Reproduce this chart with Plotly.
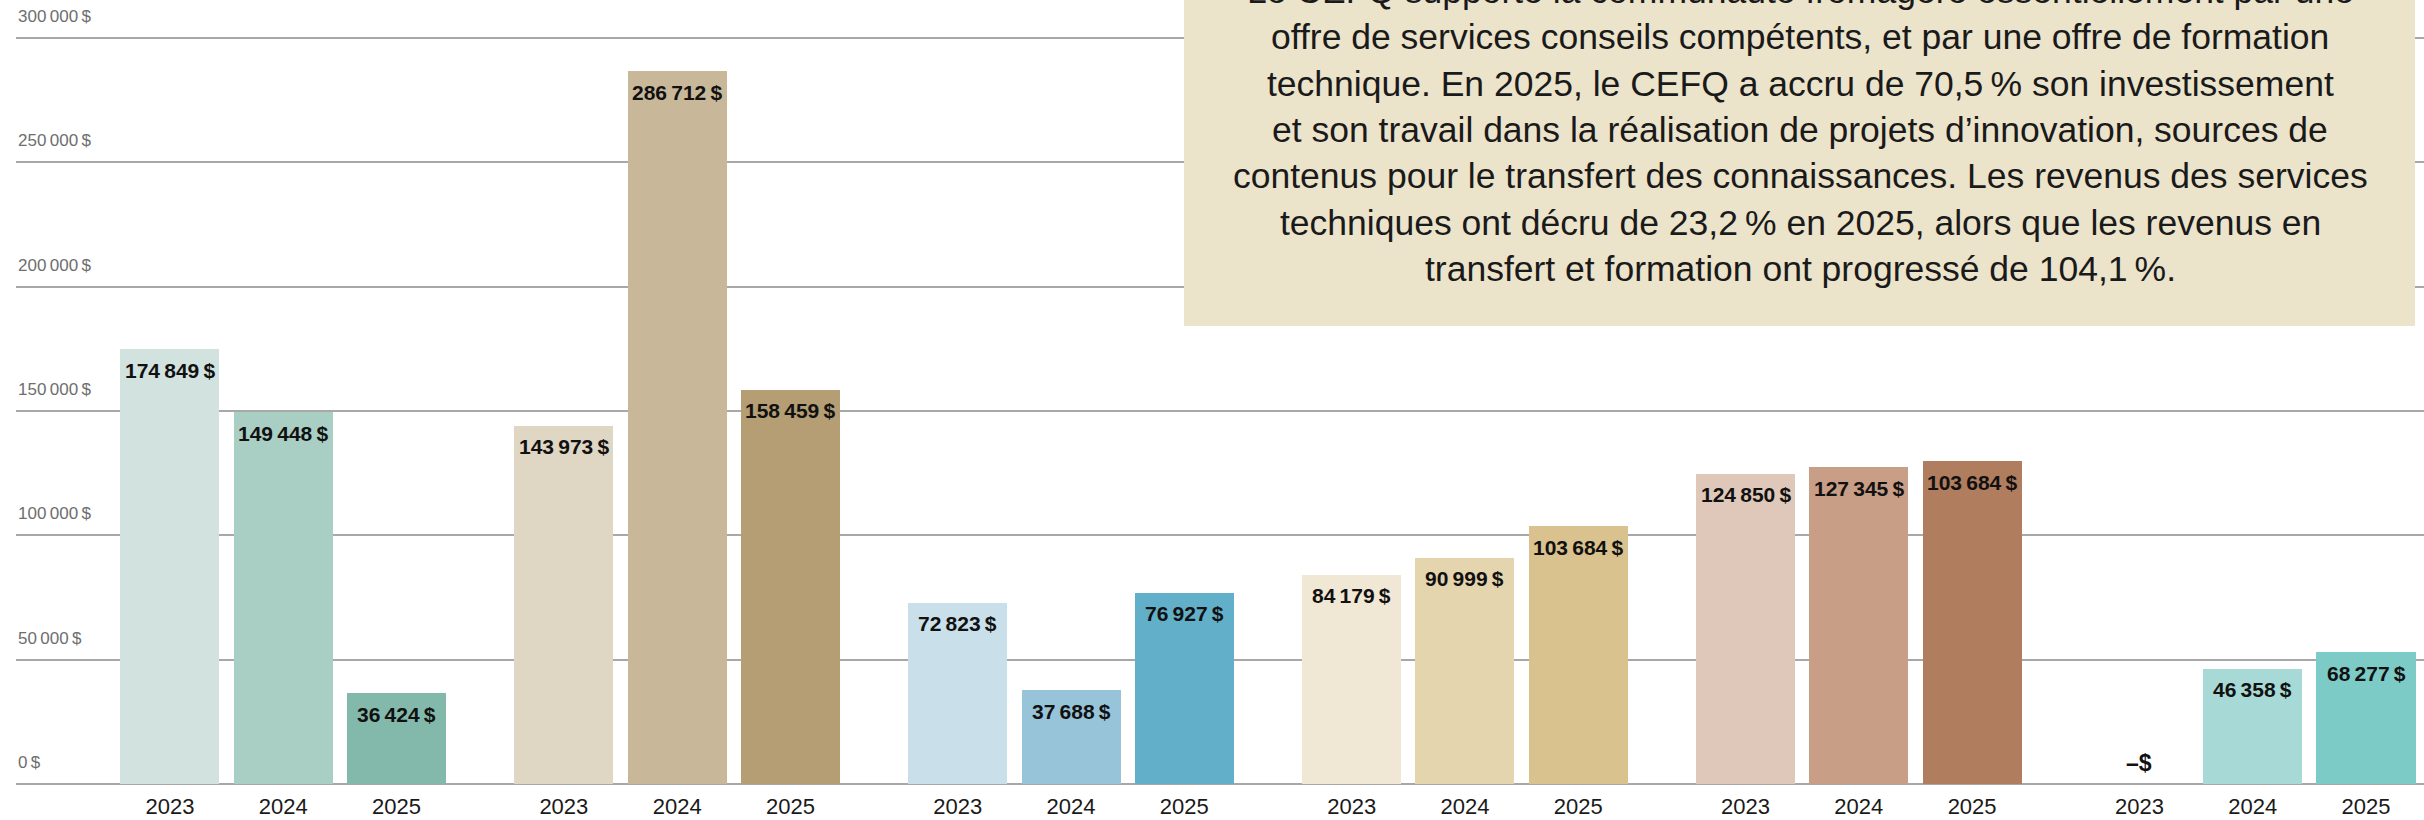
import plotly.graph_objects as go

NNB = "\u202f"

# ---------------- data ----------------
years = ["2023", "2024", "2025"]

# bar heights as drawn in the picture (one list per group of three years)
heights_g1 = [174849, 149448, 36424]
heights_g2 = [143973, 286712, 158459]
heights_g3 = [72823, 37688, 76927]
heights_g4 = [84179, 90999, 103684]
heights_g5 = [124850, 127345, 129800]
heights_g6 = [0, 46358, 53000]

# value labels printed on the bars
labels_g1 = ["174 849 $", "149 448 $", "36 424 $"]
labels_g2 = ["143 973 $", "286 712 $", "158 459 $"]
labels_g3 = ["72 823 $", "37 688 $", "76 927 $"]
labels_g4 = ["84 179 $", "90 999 $", "103 684 $"]
labels_g5 = ["124 850 $", "127 345 $", "103 684 $"]
labels_g6 = ["–$", "46 358 $", "68 277 $"]

colors_g1 = ["#d2e3df", "#a9cfc4", "#82b9aa"]
colors_g2 = ["#e0d6c4", "#c8b899", "#b59d74"]
colors_g3 = ["#c9dfea", "#97c4d9", "#62afc9"]
colors_g4 = ["#f0e7d4", "#e5d5ae", "#dac28e"]
colors_g5 = ["#dfc8b9", "#c89e86", "#b07d5e"]
colors_g6 = ["#ffffff", "#a7dad6", "#7ccbc6"]

ytick_vals = [0, 50000, 100000, 150000, 200000, 250000, 300000]
ytick_text = ["0" + NNB + "$", "50" + NNB + "000" + NNB + "$", "100" + NNB + "000" + NNB + "$",
              "150" + NNB + "000" + NNB + "$", "200" + NNB + "000" + NNB + "$",
              "250" + NNB + "000" + NNB + "$", "300" + NNB + "000" + NNB + "$"]

note_lines = [
    "Le CEFQ supporte la communauté fromagère essentiellement par une",
    "offre de services conseils compétents, et par une offre de formation",
    "technique. En 2025, le CEFQ a accru de 70,5" + NNB + "% son investissement",
    "et son travail dans la réalisation de projets d’innovation, sources de",
    "contenus pour le transfert des connaissances. Les revenus des services",
    "techniques ont décru de 23,2" + NNB + "% en 2025, alors que les revenus en",
    "transfert et formation ont progressé de 104,1" + NNB + "%.",
]

heights = [heights_g1, heights_g2, heights_g3, heights_g4, heights_g5, heights_g6]
labels = [labels_g1, labels_g2, labels_g3, labels_g4, labels_g5, labels_g6]
colors = [colors_g1, colors_g2, colors_g3, colors_g4, colors_g5, colors_g6]

# ---------------- layout constants ----------------
W, H = 2424, 820
ML, MR, MT, MB = 16, 0, 33, 36
GROUP_STEP = 3.477
BAR_W = 0.874
FONT = "Liberation Sans, Arial, sans-serif"

plot_h = H - MT - MB


def py_to_paper(py):
    return (H - MB - py) / plot_h


def px_to_paper(px):
    return (px - ML) / (W - ML - MR)


fig = go.Figure()
tickvals, ticktext = [], []
annotations = []

for g in range(len(heights)):
    xs = [g * GROUP_STEP + k for k in range(len(years))]
    label_txt = [l.replace(" ", NNB) for l in labels[g]]
    fig.add_trace(go.Bar(
        x=xs, y=heights[g], width=BAR_W,
        marker=dict(color=colors[g], line=dict(width=0)),
        hoverinfo="skip", showlegend=False,
    ))
    tickvals += xs
    ticktext += years
    for x, v, t in zip(xs, heights[g], label_txt):
        annotations.append(dict(
            x=x, y=v, xref="x", yref="y", text="<b>" + t + "</b>",
            showarrow=False, xanchor="center", yanchor="middle",
            yshift=-21 if v > 0 else 21,
            font=dict(family=FONT, size=21 if v > 0 else 23, color="#111111"),
        ))

for v, t in zip(ytick_vals, ytick_text):
    annotations.append(dict(
        x=0, y=v, xref="paper", yref="y", text=t, showarrow=False,
        xanchor="left", yanchor="bottom", yshift=10,
        font=dict(family=FONT, size=17, color="#6e6e6e"),
    ))

# note box text
for i, line in enumerate(note_lines):
    annotations.append(dict(
        x=px_to_paper(1800), y=py_to_paper(-9 + i * 46.3), xref="paper", yref="paper",
        text=line, showarrow=False, xanchor="center", yanchor="middle",
        font=dict(family=FONT, size=35.5, color="#1a1a1a"),
    ))

fig.update_layout(
    width=W, height=H,
    margin=dict(l=ML, r=MR, t=MT, b=MB),
    paper_bgcolor="white", plot_bgcolor="white",
    bargap=0,
    font=dict(family=FONT),
    xaxis=dict(
        range=[-1.359, 19.897], tickvals=tickvals, ticktext=ticktext,
        showgrid=False, zeroline=False, showline=False, ticks="",
        tickfont=dict(family=FONT, size=22, color="#1a1a1a"),
        ticklabelstandoff=7, automargin=False,
    ),
    yaxis=dict(
        range=[0, 302000], tickvals=ytick_vals, showticklabels=False,
        showgrid=True, gridcolor="#a8a8a8", gridwidth=1.5,
        zeroline=True, zerolinecolor="#a8a8a8", zerolinewidth=1.5,
        showline=False, ticks="", automargin=False,
    ),
    shapes=[dict(
        type="rect", xref="paper", yref="paper",
        x0=px_to_paper(1184), x1=px_to_paper(2415),
        y0=py_to_paper(326), y1=1.2,
        fillcolor="#ece3cb", line=dict(width=0), layer="above",
    )],
    annotations=annotations,
)

fig.write_html(
    "out.html",
    config={"displayModeBar": False},
    post_script="document.body.style.margin='0px';document.body.style.overflow='hidden';",
)
